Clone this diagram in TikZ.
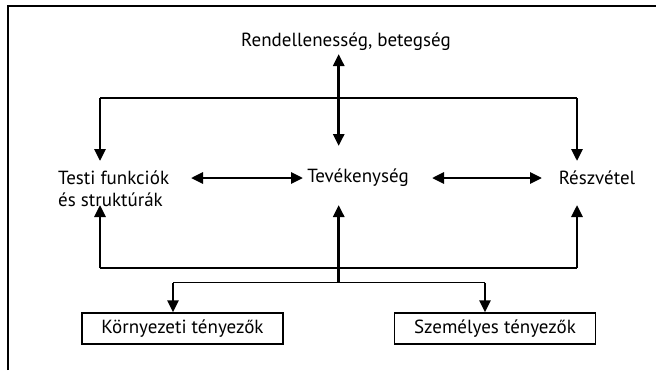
\documentclass[tikz,border=0pt]{standalone}
\usepackage{fontspec}
\setmainfont{PT Sans}
\usetikzlibrary{arrows.meta}
\begin{document}
\begin{tikzpicture}[x=1pt,y=-1pt,
  lbl/.style={inner sep=0pt, font=\fontsize{19}{22}\selectfont},
  boxnode/.style={draw, line width=1.4pt, minimum width=201pt, minimum height=31pt, inner sep=0pt, font=\fontsize{19}{22}\selectfont},
  thinline/.style={line width=1.6pt},
  arr/.style={line width=2.8pt, -{Triangle[length=12pt,width=11pt]}},
  dbl/.style={line width=2.8pt, {Triangle[length=12pt,width=11pt]}-{Triangle[length=12pt,width=11pt]}},
  frame/.style={line width=1.8pt}]
\useasboundingbox (0,0) rectangle (656,370);
% frame (top and left only)
\coordinate (fa) at (8,370);
\coordinate (fb) at (8,6);
\coordinate (fc) at (656,6);
\draw[frame] (fa) -- (fb) -- (fc);
% labels
\node[lbl] (rend) at (346,42) {Rendellenesség, betegség};
\node[lbl, anchor=west, align=left] (testi) at (58,189) {Testi funkciók\\és struktúrák};
\node[lbl] (tev) at (358,178) {Tevékenység};
\node[lbl] (resz) at (597,178) {Részvétel};
\node[boxnode] (korny) at (182.5,328.5) {Környezeti tényezők};
\node[boxnode] (szem) at (495,328.5) {Személyes tényezők};
% coordinates
\coordinate (ul) at (100,98);
\coordinate (ur) at (577,98);
\coordinate (ll) at (100,268);
\coordinate (lr) at (577,268);
\coordinate (bl) at (173,282.5);
\coordinate (br) at (485,282.5);
\coordinate (bm) at (338.7,282.5);
\coordinate (vt) at (338.7,54);
\coordinate (vb) at (338.7,146);
\coordinate (tl) at (100,161);
\coordinate (tr) at (577,161);
\coordinate (sl) at (100,205);
\coordinate (sm) at (338.7,205);
\coordinate (sr) at (577,205);
\coordinate (h1a) at (191,178);
\coordinate (h1b) at (303,178);
\coordinate (h2a) at (432,178);
\coordinate (h2b) at (542,178);
% upper part
\draw[dbl] (vt) -- (vb);
\draw[thinline] (ul) -- (ur);
\draw[arr] (ul) -- (tl);
\draw[arr] (ur) -- (tr);
% horizontal double arrows
\draw[dbl] (h1a) -- (h1b);
\draw[dbl] (h2a) -- (h2b);
% lower part
\draw[thinline] (ll) -- (lr);
\draw[arr] (ll) -- (sl);
\draw[arr] (lr) -- (sr);
\draw[arr] (bm) -- (sm);
\draw[thinline] (bl) -- (br);
\draw[arr] (bl) -- (korny.north -| bl);
\draw[arr] (br) -- (szem.north -| br);
\end{tikzpicture}
\end{document}
